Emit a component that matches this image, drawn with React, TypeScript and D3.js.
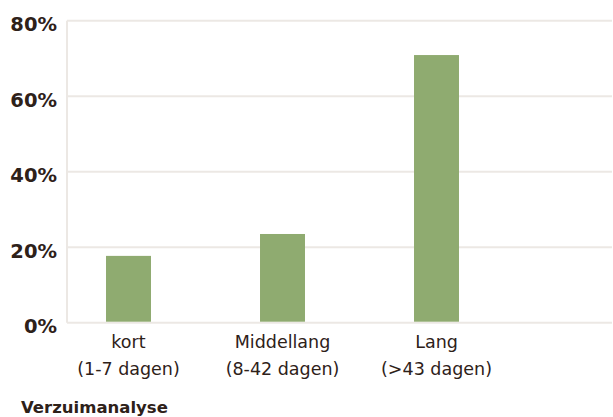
import React from "react";
import * as d3 from "d3";

const categories = ["kort", "Middellang", "Lang"];
const subLabels = ["(1-7 dagen)", "(8-42 dagen)", "(>43 dagen)"];
const values = [17.7, 23.5, 70.9];
const yTicks = [0, 20, 40, 60, 80];
const title = "Verzuimanalyse";

const W = 613;
const H = 417;
const TEXT = "#2e2119";
const GRID = "#ece8e4";
const BAR = "#8fab70";
const FONT = "'DejaVu Sans', sans-serif";

export default function App() {
  const y = d3.scaleLinear().domain([0, 80]).range([322.7, 20.7]);
  const x = d3
    .scaleBand<string>()
    .domain(categories)
    .range([51.5, 513.5])
    .paddingInner(0.708)
    .paddingOuter(0.354);
  const plotLeft = 67;
  const plotRight = 612;
  return (
    <svg
      width={W}
      height={H}
      style={{ position: "absolute", left: 0, top: 0, background: "#fff" }}
    >
      {yTicks.map((t) => (
        <g key={t}>
          <line
            x1={plotLeft}
            x2={plotRight}
            y1={y(t)}
            y2={y(t)}
            stroke={GRID}
            strokeWidth={2}
          />
          <text
            x={57}
            y={y(t) + 10.5}
            textAnchor="end"
            fontFamily={FONT}
            fontWeight={700}
            fontSize={19.5}
            fill={TEXT}
          >
            {t}%
          </text>
        </g>
      ))}
      <line
        x1={plotLeft}
        x2={plotLeft}
        y1={y(80)}
        y2={y(0)}
        stroke={GRID}
        strokeWidth={2}
      />
      {categories.map((c, i) => (
        <rect
          key={c}
          x={x(c)}
          width={x.bandwidth()}
          y={y(values[i])}
          height={y(0) - y(values[i]) - 1}
          fill={BAR}
        />
      ))}
      {categories.map((c, i) => (
        <text
          key={c}
          x={(x(c) as number) + x.bandwidth() / 2}
          textAnchor="middle"
          fontFamily={FONT}
          fontSize={17.5}
          fill={TEXT}
        >
          <tspan x={(x(c) as number) + x.bandwidth() / 2} y={347.5}>
            {c}
          </tspan>
          <tspan x={(x(c) as number) + x.bandwidth() / 2} y={375}>
            {subLabels[i]}
          </tspan>
        </text>
      ))}
      <text
        x={21}
        y={413}
        fontFamily={FONT}
        fontWeight={700}
        fontSize={16.5}
        fill={TEXT}
      >
        {title}
      </text>
    </svg>
  );
}
